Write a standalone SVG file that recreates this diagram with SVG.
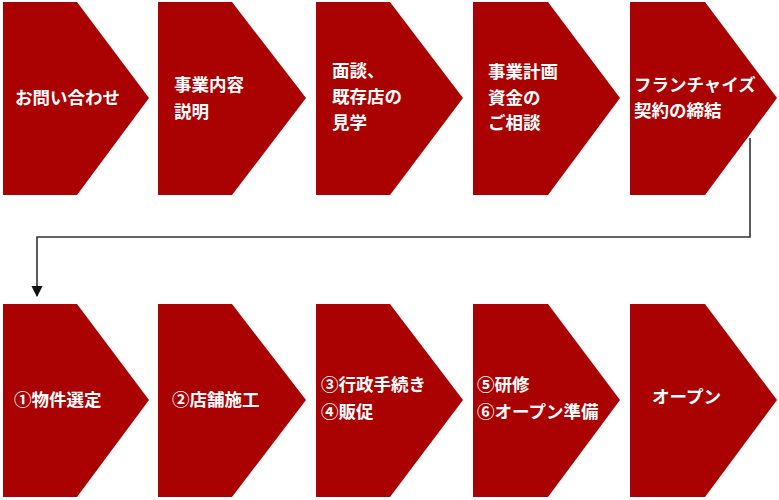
<svg xmlns="http://www.w3.org/2000/svg" width="779" height="500" viewBox="0 0 779 500">
<defs>
<style>
.chev{fill:#AA0202;}
.t{fill:#fff;font-family:"Noto Sans CJK JP","Noto Sans CJK SC",sans-serif;font-weight:bold;font-size:17.5px;}
.conn{fill:none;stroke:#333;stroke-width:1.6;}
</style>
<marker id="ah" viewBox="0 0 10 10" refX="9" refY="5" markerWidth="7" markerHeight="7" orient="auto" markerUnits="strokeWidth">
<path d="M0,0 L10,5 L0,10 z" fill="#111"/>
</marker>
</defs>
<rect width="779" height="500" fill="#fff"/>
<g id="n1"><path class="chev" d="M3,2 H77 L149,98 L77,195 H3 Z"/><text class="t" x="15" y="104">お問い合わせ</text></g>
<g id="n2"><path class="chev" d="M158,2 H232 L306,98 L232,195 H158 Z"/><text class="t" x="174" y="91">事業内容</text><text class="t" x="174" y="118">説明</text></g>
<g id="n3"><path class="chev" d="M316,2 H390 L463,98 L390,195 H316 Z"/><text class="t" x="332" y="77">面談、</text><text class="t" x="332" y="103">既存店の</text><text class="t" x="332" y="129">見学</text></g>
<g id="n4"><path class="chev" d="M473,2 H548 L620,98 L548,195 H473 Z"/><text class="t" x="488" y="78">事業計画</text><text class="t" x="488" y="104">資金の</text><text class="t" x="488" y="129">ご相談</text></g>
<g id="n5"><path class="chev" d="M630,2 H705 L777,98 L705,195 H630 Z"/><text class="t" x="634" y="91">フランチャイズ</text><text class="t" x="634" y="117">契約の締結</text></g>
<g id="n6"><path class="chev" d="M3,304 H77 L149,400 L77,497 H3 Z"/><text class="t" x="14" y="406">①物件選定</text></g>
<g id="n7"><path class="chev" d="M158,304 H232 L306,400 L232,497 H158 Z"/><text class="t" x="172" y="406">②店舗施工</text></g>
<g id="n8"><path class="chev" d="M316,304 H390 L463,400 L390,497 H316 Z"/><text class="t" x="321" y="391">③行政手続き</text><text class="t" x="321" y="418">④販促</text></g>
<g id="n9"><path class="chev" d="M473,304 H548 L620,400 L548,497 H473 Z"/><text class="t" x="477" y="391">⑤研修</text><text class="t" x="477" y="418">⑥オープン準備</text></g>
<g id="n10"><path class="chev" d="M630,304 H705 L777,400 L705,497 H630 Z"/><text class="t" x="652" y="403">オープン</text></g>
<g id="connectors">
<path class="conn" d="M750,138 V237 H37 V296" marker-end="url(#ah)"/>
</g>
</svg>
